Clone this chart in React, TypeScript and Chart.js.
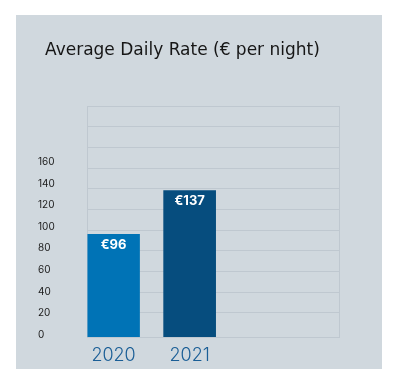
import React, { useEffect, useRef } from 'react';
import { Chart, registerables } from 'chart.js';
Chart.register(...registerables);

const TITLE = 'Average Daily Rate (€ per night)';
const categories = ['2020', '2021'];
const rates = [96, 137];
const barColors = ['#0073b6', '#064d7e'];
const yTickLabels = [0, 20, 40, 60, 80, 100, 120, 140, 160];

const FONT = 'Inter, "Open Sans", sans-serif';
const TITLE_FONT = '"DejaVu Sans", sans-serif';
const GRID = '#bfc8d0';
const BG = '#d0d8de';

export default function App() {
  const ref = useRef<HTMLCanvasElement>(null);
  useEffect(() => {
    const canvas = ref.current!;
    const titlePlugin = {
      id: 'panelTitle',
      afterDraw(chart: any) {
        const ctx = chart.ctx;
        ctx.save();
        ctx.font = `17px ${TITLE_FONT}`;
        ctx.fillStyle = '#161616';
        ctx.textBaseline = 'alphabetic';
        ctx.textAlign = 'left';
        ctx.fillText(TITLE, 29, 40);
        ctx.restore();
      },
    };
    const framePlugin = {
      id: 'frame',
      beforeDatasetsDraw(chart: any) {
        const { ctx, chartArea: a } = chart;
        ctx.save();
        ctx.strokeStyle = GRID;
        ctx.lineWidth = 1;
        ctx.strokeRect(
          Math.round(a.left) + 0.5,
          Math.round(a.top) + 0.5,
          Math.round(a.right - a.left),
          Math.round(a.bottom - a.top)
        );
        ctx.restore();
      },
    };
    const valueLabels = {
      id: 'valueLabels',
      afterDatasetsDraw(chart: any) {
        const ctx = chart.ctx;
        const meta = chart.getDatasetMeta(0);
        ctx.save();
        ctx.font = `bold 13px ${FONT}`;
        ctx.fillStyle = '#ffffff';
        ctx.textAlign = 'center';
        ctx.textBaseline = 'top';
        meta.data.forEach((bar: any, i: number) => {
          ctx.fillText('€' + rates[i], bar.x, bar.y + 4);
        });
        ctx.restore();
      },
    };
    const chart = new Chart(canvas, {
      type: 'bar',
      data: {
        datasets: [
          {
            data: rates.map((v, i) => ({ x: i, y: v })),
            backgroundColor: barColors,
            barThickness: 52,
            borderWidth: 0,
          },
        ],
      },
      options: {
        animation: false,
        responsive: false,
        maintainAspectRatio: false,
        layout: { padding: { left: 22, top: 91, right: 43, bottom: 0 } },
        plugins: {
          legend: { display: false },
          tooltip: { enabled: false },
          title: { display: false },
        },
        scales: {
          x: {
            type: 'linear',
            offset: false,
            min: -0.345,
            max: 2.963,
            grid: { display: false, offset: false },
            border: { display: false },
            afterBuildTicks: (s: any) => {
              s.ticks = categories.map((_, i) => ({ value: i }));
            },
            afterFit: (s: any) => {
              s.height = 32;
            },
            ticks: {
              callback: (v: any) => categories[v] ?? '',
              font: { family: FONT, size: 18, weight: '300' },
              color: '#1a5e96',
              padding: 0,
              maxRotation: 0,
              autoSkip: false,
            },
          },
          y: { display: false, min: 0, max: 216 },
          yGrid: {
            position: 'right',
            min: -3.2,
            max: 220,
            ticks: { display: false, stepSize: 20 },
            grid: { color: GRID, drawTicks: false },
            border: { display: false },
            afterBuildTicks: (s: any) => {
              s.ticks = s.ticks.filter((t: any) => t.value > 0);
            },
            afterFit: (s: any) => {
              s.width = 0;
            },
          },
          yLab: {
            position: 'left',
            min: -2.13,
            max: 211.9,
            grid: { display: false },
            border: { display: false },
            afterBuildTicks: (s: any) => {
              s.ticks = yTickLabels.map((v) => ({ value: v }));
            },
            afterFit: (s: any) => {
              s.width = 49.3;
            },
            ticks: {
              crossAlign: 'far',
              font: { family: FONT, size: 10 },
              color: '#1b1b1b',
            },
          },
        },
      } as any,
      plugins: [framePlugin, valueLabels, titlePlugin],
    });
    return () => chart.destroy();
  }, []);
  return (
    <div style={{ paddingTop: 7, paddingLeft: 8 }}>
      <div style={{ width: 366, height: 354, background: BG }}>
        <canvas ref={ref} width={366} height={354} style={{ display: 'block' }} />
      </div>
    </div>
  );
}
